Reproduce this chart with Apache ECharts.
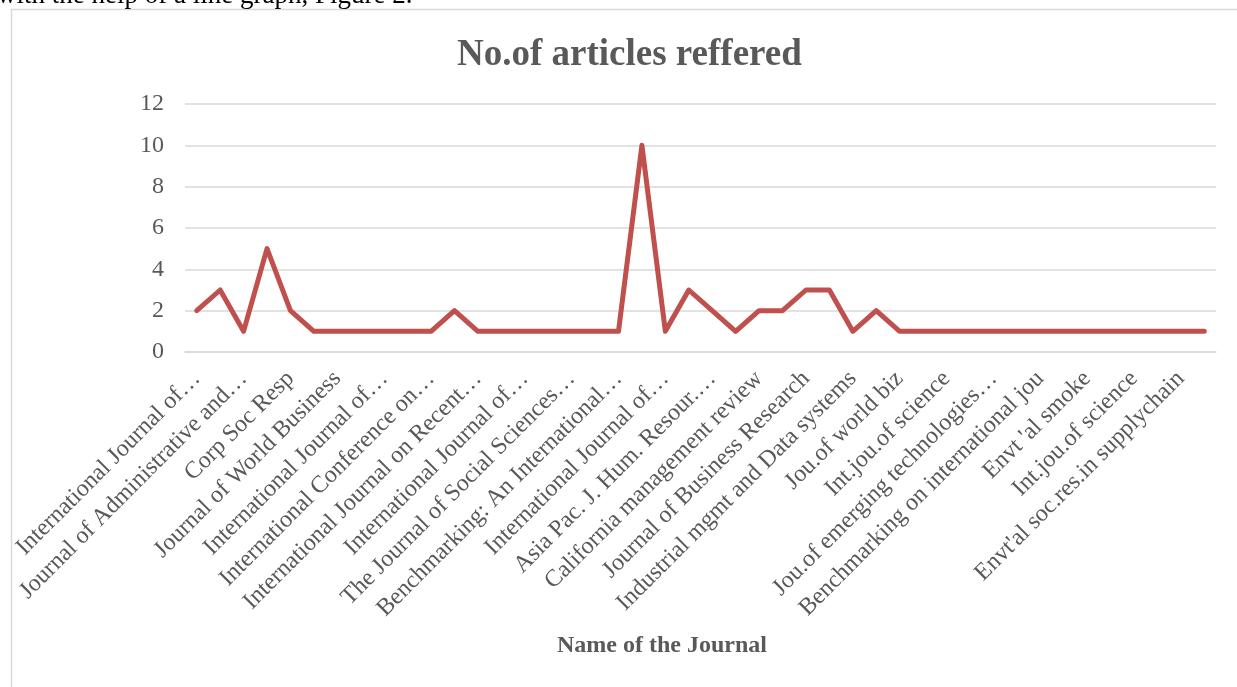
<!DOCTYPE html>
<html>
<head>
<meta charset="utf-8">
<script src="https://cdn.jsdelivr.net/npm/echarts@6/dist/echarts.min.js"></script>
<style>
html,body{margin:0;padding:0;background:#fff;}
#chart{width:1237px;height:687px;}
</style>
</head>
<body>
<div id="chart"></div>
<script>
// Journal names (only every other label is visible in the original; hidden ones left blank)
var journals = [
  "International Journal of\u2026", "",
  "Journal of Administrative and\u2026", "",
  "Corp Soc Resp", "",
  "Journal of World Business", "",
  "International Journal of\u2026", "",
  "International Conference on\u2026", "",
  "International Journal on Recent\u2026", "",
  "International Journal of\u2026", "",
  "The Journal of Social Sciences\u2026", "",
  "Benchmarking: An International\u2026", "",
  "International Journal of\u2026", "",
  "Asia Pac. J. Hum. Resour.\u2026", "",
  "California management review", "",
  "Journal of Business Research", "",
  "Industrial mgmt and Data systems", "",
  "Jou.of world biz", "",
  "Int.jou.of science", "",
  "Jou.of emerging technologies\u2026", "",
  "Benchmarking on international jou", "",
  "Envt 'al smoke", "",
  "Int.jou.of science", "",
  "Envt'al soc.res.in supplychain", ""
];
var articles = [
  2, 3, 1, 5, 2, 1, 1, 1, 1, 1, 1, 2, 1, 1, 1, 1, 1, 1, 1, 10,
  1, 3, 2, 1, 2, 2, 3, 3, 1, 2, 1, 1, 1, 1, 1, 1, 1, 1, 1, 1,
  1, 1, 1, 1
];
var yTicks = { min: 0, max: 12, interval: 2 };
var titleText = "No.of articles reffered";
var xAxisTitle = "Name of the Journal";
var docText = "with the help of a line graph, Figure 2.";

var serif = "'Liberation Serif', 'Times New Roman', serif";
var chart = echarts.init(document.getElementById('chart'), null, {renderer: 'canvas'});
chart.setOption({
  backgroundColor: '#ffffff',
  animation: false,
  title: {
    text: titleText,
    left: 452,
    top: 32,
    textStyle: { fontFamily: serif, fontSize: 37, fontWeight: 'bold', color: '#595959' }
  },
  graphic: [
    { type: 'rect', left: 9, top: 7, z: -1, silent: true,
      shape: { width: 1400, height: 800 },
      style: { fill: 'none', stroke: '#d9d9d9', lineWidth: 1.5 } },
    { type: 'text', left: -3, top: -18, silent: true,
      style: { text: docText, font: "27px " + serif, fill: '#000000' } }
  ],
  grid: { left: 185, right: 21, top: 104, bottom: 335, containLabel: false },
  xAxis: {
    type: 'category',
    data: journals,
    boundaryGap: true,
    name: xAxisTitle,
    nameLocation: 'middle',
    nameGap: 282,
    nameTextStyle: { fontFamily: serif, fontSize: 24, fontWeight: 'bold', color: '#595959', padding: [0, 77, 0, 0] },
    axisLine: { lineStyle: { color: '#d9d9d9', width: 1.5 } },
    axisTick: { show: false },
    axisLabel: { interval: 1, rotate: 45, margin: 23, fontFamily: serif, fontSize: 24, color: '#595959' },
    splitLine: { show: false }
  },
  yAxis: {
    type: 'value',
    min: yTicks.min, max: yTicks.max, interval: yTicks.interval,
    axisLine: { show: false },
    axisTick: { show: false },
    axisLabel: { margin: 21, fontFamily: serif, fontSize: 24, color: '#595959' },
    splitLine: { lineStyle: { color: '#d9d9d9', width: 1.5 } }
  },
  series: [{
    type: 'line',
    data: articles,
    symbol: 'none',
    lineStyle: { color: '#C0504D', width: 5, cap: 'round', join: 'round' }
  }]
});
</script>
</body>
</html>
